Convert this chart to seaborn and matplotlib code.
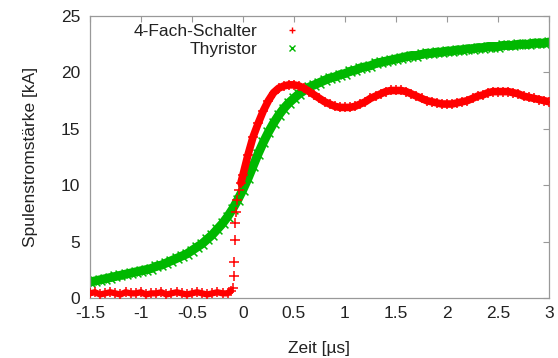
import seaborn as sns
import matplotlib.pyplot as plt
from matplotlib.lines import Line2D

# Zeit [µs] und Spulenstrom [kA]
t_thyristor = [-1.50, -1.45, -1.40, -1.35, -1.30, -1.25, -1.20, -1.15, -1.10, -1.05,
               -1.00, -0.95, -0.90, -0.85, -0.80, -0.75, -0.70, -0.65, -0.60, -0.55,
               -0.50, -0.45, -0.40, -0.35, -0.30, -0.25, -0.20, -0.15, -0.10, -0.05,
               0.00, 0.05, 0.10, 0.15, 0.20, 0.25, 0.30, 0.35, 0.40, 0.45,
               0.50, 0.55, 0.60, 0.65, 0.70, 0.75, 0.80, 0.85, 0.90, 0.95,
               1.00, 1.05, 1.10, 1.15, 1.20, 1.25, 1.30, 1.35, 1.40, 1.45,
               1.50, 1.55, 1.60, 1.65, 1.70, 1.75, 1.80, 1.85, 1.90, 1.95,
               2.00, 2.05, 2.10, 2.15, 2.20, 2.25, 2.30, 2.35, 2.40, 2.45,
               2.50, 2.55, 2.60, 2.65, 2.70, 2.75, 2.80, 2.85, 2.90, 2.95, 3.00]
i_thyristor = [1.4, 1.5, 1.6, 1.7, 1.8, 1.9, 2.0, 2.1, 2.2, 2.3,
               2.4, 2.5, 2.6, 2.8, 2.9, 3.1, 3.3, 3.5, 3.7, 3.9,
               4.2, 4.5, 4.8, 5.2, 5.6, 6.1, 6.6, 7.2, 7.9, 8.7,
               9.6, 10.6, 11.7, 12.8, 13.8, 14.7, 15.5, 16.2, 16.8, 17.3,
               17.7, 18.1, 18.4, 18.7, 18.9, 19.1, 19.3, 19.5, 19.6, 19.8,
               19.9, 20.1, 20.2, 20.4, 20.5, 20.6, 20.8, 20.9, 21.0, 21.1,
               21.2, 21.3, 21.4, 21.5, 21.5, 21.6, 21.7, 21.7, 21.8, 21.8,
               21.9, 21.9, 22.0, 22.0, 22.1, 22.1, 22.2, 22.2, 22.3, 22.3,
               22.3, 22.4, 22.4, 22.4, 22.5, 22.5, 22.5, 22.6, 22.6, 22.6, 22.7]

t_schalter = [-1.50, -1.45, -1.40, -1.35, -1.30, -1.25, -1.20, -1.15, -1.10, -1.05,
              -1.00, -0.95, -0.90, -0.85, -0.80, -0.75, -0.70, -0.65, -0.60, -0.55,
              -0.50, -0.45, -0.40, -0.35, -0.30, -0.25, -0.20, -0.15, -0.12, -0.10,
              -0.09, -0.085, -0.08, -0.075, -0.07, -0.06, -0.04, -0.02,
              0.00, 0.05, 0.10, 0.15, 0.20, 0.25, 0.30, 0.35, 0.40, 0.45,
              0.50, 0.55, 0.60, 0.65, 0.70, 0.75, 0.80, 0.85, 0.90, 0.95,
              1.00, 1.05, 1.10, 1.15, 1.20, 1.25, 1.30, 1.35, 1.40, 1.45,
              1.50, 1.55, 1.60, 1.65, 1.70, 1.75, 1.80, 1.85, 1.90, 1.95,
              2.00, 2.05, 2.10, 2.15, 2.20, 2.25, 2.30, 2.35, 2.40, 2.45,
              2.50, 2.55, 2.60, 2.65, 2.70, 2.75, 2.80, 2.85, 2.90, 2.95, 3.00]
i_schalter = [0.4, 0.5, 0.3, 0.4, 0.5, 0.4, 0.3, 0.5, 0.4, 0.4,
              0.5, 0.3, 0.4, 0.4, 0.5, 0.3, 0.4, 0.5, 0.4, 0.3,
              0.4, 0.5, 0.4, 0.3, 0.4, 0.5, 0.4, 0.4, 0.6, 0.9,
              1.9, 3.2, 5.1, 6.6, 7.6, 8.7, 9.6, 10.2,
              10.9, 12.7, 14.3, 15.5, 16.6, 17.5, 18.2, 18.6, 18.8, 18.9,
              18.9, 18.8, 18.6, 18.3, 18.0, 17.7, 17.4, 17.2, 17.0, 16.9,
              16.9, 16.9, 17.0, 17.2, 17.4, 17.7, 17.9, 18.1, 18.3, 18.4,
              18.4, 18.4, 18.3, 18.1, 17.9, 17.7, 17.5, 17.4, 17.3, 17.2,
              17.2, 17.2, 17.3, 17.4, 17.5, 17.7, 17.9, 18.0, 18.2, 18.3,
              18.3, 18.3, 18.3, 18.2, 18.1, 17.9, 17.8, 17.7, 17.6, 17.5, 17.4]

RED = '#ff0000'
GREEN = '#00b800'
TXT = '#222222'
FS = 12.5

sns.set_style('white')
plt.rcParams['font.family'] = ['Liberation Sans', 'DejaVu Sans']

fig = plt.figure(figsize=(5.58, 3.58), dpi=100)
ax = fig.add_axes([0.161, 0.168, 0.823, 0.787])

# dichte Punktwolke -> breites Band: Linie + Marker
sns.lineplot(x=t_thyristor, y=i_thyristor, color=GREEN, linewidth=6.5,
             sort=False, ax=ax, zorder=2)
sns.scatterplot(x=t_thyristor, y=i_thyristor, marker='x', s=50, color=GREEN,
                linewidth=1.1, ax=ax, zorder=2)

# Schalter: flacher Teil und Hauptteil als Band, Sprung nur als Einzelpunkte
flat = [k for k, t in enumerate(t_schalter) if t <= -0.12]
main = [k for k, t in enumerate(t_schalter) if t >= -0.02]
sns.lineplot(x=[t_schalter[k] for k in flat], y=[i_schalter[k] for k in flat],
             color=RED, linewidth=4.5, sort=False, ax=ax, zorder=3)
sns.lineplot(x=[t_schalter[k] for k in main], y=[i_schalter[k] for k in main],
             color=RED, linewidth=5.5, sort=False, ax=ax, zorder=3)
sns.scatterplot(x=t_schalter, y=i_schalter, marker='+', s=50, color=RED,
                linewidth=1.1, ax=ax, zorder=3)

ax.set_xlim(-1.5, 3)
ax.set_ylim(0, 25)
ax.set_xticks([-1.5, -1, -0.5, 0, 0.5, 1, 1.5, 2, 2.5, 3])
ax.set_xticklabels(['-1.5', '-1', '-0.5', '0', '0.5', '1', '1.5', '2', '2.5', '3'])
ax.set_yticks([0, 5, 10, 15, 20, 25])
ax.tick_params(direction='in', length=4, width=0.8, color='#999999',
               top=True, right=True, labelsize=FS, labelcolor=TXT)
ax.tick_params(axis='x', pad=6)
ax.tick_params(axis='y', pad=7)
for s in ax.spines.values():
    s.set_color('#999999')
    s.set_linewidth(0.9)

ax.set_xlabel('Zeit [µs]', fontsize=FS, color=TXT, labelpad=14)
ax.set_ylabel('Spulenstromstärke [kA]', fontsize=FS, color=TXT, labelpad=16)

handles = [Line2D([], [], linestyle='none', marker='+', markersize=5, color=RED,
                  markeredgewidth=1),
           Line2D([], [], linestyle='none', marker='x', markersize=4, color=GREEN,
                  markeredgewidth=1)]
leg = ax.legend(handles, ['4-Fach-Schalter', 'Thyristor'], loc='upper right',
                bbox_to_anchor=(0.459, 0.974), frameon=False, markerfirst=False,
                fontsize=FS, handlelength=1.0, handletextpad=1.5,
                labelspacing=0.17, borderpad=0, borderaxespad=0)
for txt in leg.get_texts():
    txt.set_ha('right')
    txt.set_color(TXT)

fig.savefig('out.png', dpi=100)
